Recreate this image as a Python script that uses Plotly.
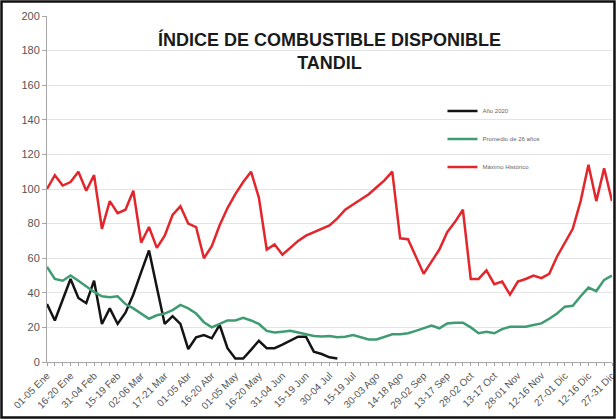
import plotly.graph_objects as go

tick_labels = ["01-05 Ene", "16-20 Ene", "31-04 Feb", "15-19 Feb", "02-06 Mar", "17-21 Mar",
               "01-05 Abr", "16-20 Abr", "01-05 May", "16-20 May", "31-04 Jun", "15-19 Jun",
               "30-04 Jul", "15-19 Jul", "30-03 Ago", "14-18 Ago", "29-02 Sep", "13-17 Sep",
               "28-02 Oct", "13-17 Oct", "28-01 Nov", "12-16 Nov", "27-01 Dic", "12-16 Dic",
               "27-31 Dic"]

anio_2020 = [33.5, 24, 36, 48, 37, 34, 47, 22, 31, 22, 28.5, 39, 52, 64.5, 43, 22, 26.5, 22,
             7.5, 14.3, 15.6, 13.7, 21.4, 8, 2, 2, 7, 12.3, 8, 8, 10, 12.3, 14.6, 14.6, 6,
             4.6, 2.7, 2]

promedio_26 = [55, 48, 47, 50, 47, 43.5, 40.5, 38, 37.5, 38, 33.5, 31, 28, 25, 27, 28, 30, 33,
               31, 28, 23, 20, 22, 24, 24, 25.5, 24, 22, 18, 17, 17.5, 18, 17, 16, 15, 14.8,
               15, 14.3, 14.6, 15.6, 14.3, 13, 13, 14.6, 16, 16, 16.6, 18, 19.5, 21, 19.5,
               22.3, 22.7, 22.7, 20, 16.6, 17.5, 16.6, 19, 20.4, 20.4, 20.4, 21.4, 22.3, 25,
               28, 32, 32.5, 38, 43, 41, 47.5, 50]

maximo_hist = [100, 108, 102, 104, 110, 99, 108, 77, 93, 86, 88, 99, 69, 78, 66, 73, 85, 90,
               80, 78, 60, 67, 79, 89, 97, 104, 110, 95, 65, 68, 62, 66, 70, 73, 75, 77, 79,
               83, 88, 91, 94, 97, 101, 105, 110, 71.5, 71, 61, 51, 58, 65, 75, 81, 88, 48,
               48, 53, 45, 46.5, 39, 46.5, 48, 50, 48.5, 51, 61, 69, 77, 93, 114, 93, 112, 93]

W, H = 616, 419
ML, MR, MT, MB = 47, 4, 16, 57

fig = go.Figure()
fig.add_trace(go.Scatter(x=list(range(len(anio_2020))), y=anio_2020, mode="lines",
                         name="Año 2020", line=dict(color="#141414", width=2.5),
                         legendgroup="a"))
fig.add_trace(go.Scatter(x=list(range(len(promedio_26))), y=promedio_26, mode="lines",
                         name="Promedio de 26 años", line=dict(color="#3f9c72", width=2.5),
                         legendgroup="b"))
fig.add_trace(go.Scatter(x=list(range(len(maximo_hist))), y=maximo_hist, mode="lines",
                         name="Máximo Histórico", line=dict(color="#e3262b", width=2.5),
                         legendgroup="c"))

pw = W - ML - MR
ph = H - MT - MB

fig.update_layout(
    width=W, height=H,
    margin=dict(l=ML, r=MR, t=MT, b=MB, autoexpand=False),
    paper_bgcolor="white", plot_bgcolor="white",
    font=dict(family="Liberation Sans, Arial, sans-serif", color="#555555"),
    showlegend=True,
    legend=dict(x=0.70, y=0.767, xanchor="left", yanchor="top",
                font=dict(size=6, color="#666666"), bgcolor="rgba(0,0,0,0)",
                traceorder="grouped", tracegroupgap=9, itemwidth=30),
    xaxis=dict(range=[0, 72], tickmode="array", automargin=False,
               tickvals=list(range(0, 73, 3)), ticktext=tick_labels,
               tickangle=-45, tickfont=dict(size=10, color="#555555"),
               ticklabeloverflow="allow",
               showgrid=False, showline=True, linecolor="#a6a6a6", linewidth=1,
               ticks="outside", ticklen=3, tickcolor="#a6a6a6",
               minor=dict(dtick=1, ticks="outside", ticklen=3, tickcolor="#a6a6a6",
                          showgrid=False),
               zeroline=False, fixedrange=True),
    yaxis=dict(range=[0, 200], dtick=20, tickfont=dict(size=11, color="#555555"),
               automargin=False,
               showgrid=True, gridcolor="#e4e4e4", gridwidth=1,
               showline=True, linecolor="#a6a6a6", linewidth=1,
               ticks="outside", ticklen=4, tickcolor="#a6a6a6",
               zeroline=False, fixedrange=True),
    annotations=[dict(text="<b>ÍNDICE DE COMBUSTIBLE DISPONIBLE<br>TANDIL</b>",
                      xref="paper", yref="paper", x=0.5, y=(H - MB - 51) / ph,
                      xanchor="center", yanchor="middle", showarrow=False,
                      font=dict(size=18, color="#1a1a1a",
                                family="Liberation Sans, Arial, sans-serif"))],
    shapes=[dict(type="rect", xref="paper", yref="paper",
                 x0=-(ML - 1.5) / pw, x1=(W - ML - 1.5) / pw,
                 y0=-(MB - 1.5) / ph, y1=(H - MB - 1.5) / ph,
                 line=dict(color="#111111", width=2.5), layer="above")],
)

fig.write_html("out.html", config={"displayModeBar": False},
               post_script="document.body.style.margin='0';")
